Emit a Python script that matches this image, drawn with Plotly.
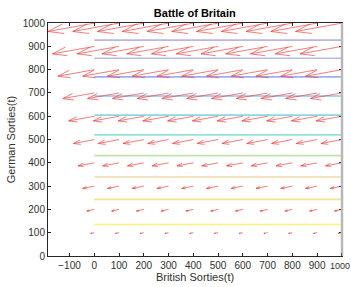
import numpy as np
import plotly.graph_objects as go

# grid of British sorties (x) and German sorties (y)
british = [0, 100, 200, 300, 400, 500, 600, 700, 800, 900, 1000]
german = [100, 200, 300, 400, 500, 600, 700, 800, 900, 1000]
# displayed vector components for each German row (same across British columns)
u_row = [-15, -30, -47, -66, -84, -104, -127, -147, -169, -187]
v_row = [-3, -7, -10, -13, -17, -20, -24, -28, -32, -36]

# horizontal contour levels
levels = [135, 243, 339, 431, 520, 605, 687, 769, 849, 927]
level_colors = ["#f8f27a", "#f2e48e", "#ebdcaa", "#bde3a9", "#92e3d2",
                "#8ad7e3", "#8dc6ea", "#9aaff0", "#b6b9ee", "#b9b5e4"]
x_span = [0, 1000]
x_ticks = list(range(-100, 1001, 100))
y_ticks = list(range(0, 1001, 100))

fig = go.Figure()

for lv, col in zip(levels, level_colors):
    fig.add_trace(go.Scatter(x=x_span, y=[lv, lv], mode="lines",
                             line=dict(color=col, width=1.6),
                             hoverinfo="skip", showlegend=False))

alpha, beta = 0.33, 0.33
xs, ys = [], []
for gi, yv in enumerate(german):
    u = u_row[gi]
    v = v_row[gi]
    for xv in british:
        tx, ty = xv + u, yv + v
        xs += [xv, tx, None]
        ys += [yv, ty, None]
        xs += [tx - alpha * (u + beta * v), tx, tx - alpha * (u - beta * v), None]
        ys += [ty - alpha * (v - beta * u), ty, ty - alpha * (v + beta * u), None]

fig.add_trace(go.Scatter(x=xs, y=ys, mode="lines",
                         line=dict(color="#f04444", width=0.7),
                         hoverinfo="skip", showlegend=False))

font_family = "Liberation Sans, Arial"
axis_common = dict(showgrid=False, zeroline=False, showline=True, automargin=False,
                   linecolor="#262626", linewidth=1, mirror="ticks",
                   ticks="inside", ticklen=3, tickcolor="#262626",
                   tickfont=dict(family=font_family, size=10, color="#303030"))

fig.update_layout(
    width=351, height=287,
    margin=dict(l=48, r=9, t=23, b=31, autoexpand=False),
    paper_bgcolor="white", plot_bgcolor="white",
    title=dict(text="<b>Battle of Britain</b>", x=0.555, xanchor="center",
               y=0.955, yanchor="middle", automargin=False,
               font=dict(family=font_family, size=11, color="black")),
    xaxis=dict(range=[-187, 1000.5], tickvals=x_ticks[:-1],
               title=dict(text="British Sorties(t)", standoff=2,
                          font=dict(family=font_family, size=11, color="#303030")),
               **axis_common),
    yaxis=dict(range=[0, 1000.5], tickvals=y_ticks,
               title=dict(text="German Sorties(t)", standoff=4,
                          font=dict(family=font_family, size=11, color="#303030")),
               **axis_common),
    shapes=[dict(type="line", xref="paper", yref="paper", x0=1.0, x1=1.0,
                 y0=0, y1=1, line=dict(color="#b8b8b8", width=2.5)),
            dict(type="line", xref="x", yref="paper", x0=x_ticks[-1], x1=x_ticks[-1],
                 y0=0, y1=0.013, line=dict(color="#262626", width=1))],
    annotations=[dict(x=1, y=0, xref="paper", yref="paper", yanchor="top",
                      xanchor="right", xshift=10, yshift=-3, showarrow=False,
                      text=str(x_ticks[-1]),
                      font=dict(family=font_family, size=9, color="#303030"))],
)

fig.write_html("out.html", config={"displayModeBar": False},
               post_script="document.body.style.margin='0px';")
